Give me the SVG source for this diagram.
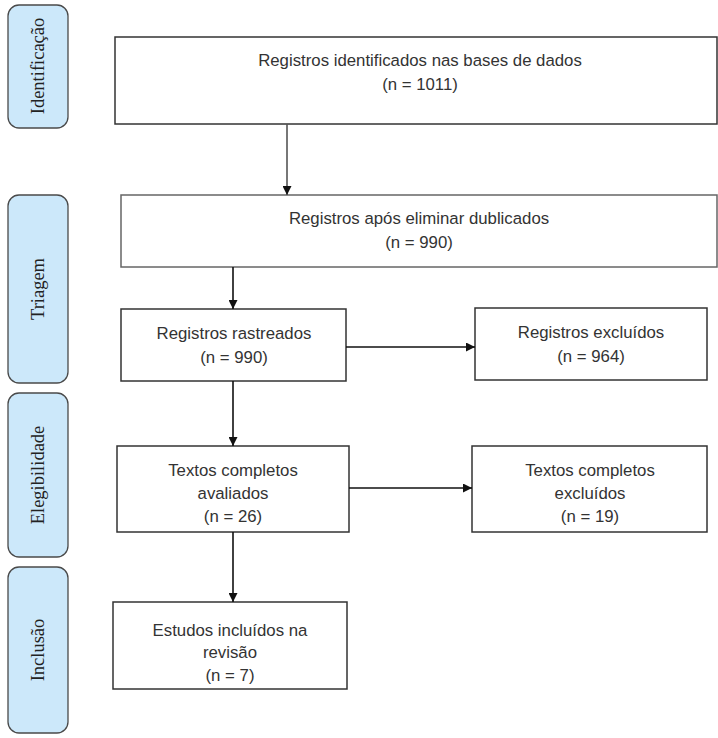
<svg xmlns="http://www.w3.org/2000/svg" width="718" height="738" viewBox="0 0 718 738">
<defs>
<marker id="ah" viewBox="0 0 10 10" refX="10" refY="5" markerWidth="10" markerHeight="9" markerUnits="userSpaceOnUse" orient="auto">
<path d="M0,0 L10,5 L0,10 z" fill="#111"/>
</marker>
</defs>
<style>
.phase{fill:#cce8fa;stroke:#4a4a4a;stroke-width:1.3}
.ptxt{font-family:"Liberation Serif","Times New Roman",serif;font-size:18.5px;fill:#222;text-anchor:middle;dominant-baseline:central}
.box{fill:#fff;stroke:#333;stroke-width:1.5}
.txt{font-family:"Liberation Sans",Arial,sans-serif;font-size:16.8px;fill:#333;text-anchor:middle;dominant-baseline:central}
.con{stroke:#111;stroke-width:1.6;fill:none;marker-end:url(#ah)}
</style>
<rect width="718" height="738" fill="#fff"/>
<g id="phase-identificacao"><rect class="phase" x="8" y="5" width="60" height="123" rx="11"/><text class="ptxt" transform="translate(38,66) rotate(-90)">Identificação</text></g>
<g id="phase-triagem"><rect class="phase" x="8" y="195" width="60" height="188" rx="11"/><text class="ptxt" transform="translate(38,289) rotate(-90)">Triagem</text></g>
<g id="phase-elegibilidade"><rect class="phase" x="8" y="393" width="60" height="164" rx="11"/><text class="ptxt" transform="translate(38,475) rotate(-90)">Elegibilidade</text></g>
<g id="phase-inclusao"><rect class="phase" x="8" y="567" width="60" height="166" rx="11"/><text class="ptxt" transform="translate(38,650) rotate(-90)">Inclusão</text></g>

<g id="n-identificados"><rect class="box" x="115" y="37" width="602" height="87"/><text class="txt" x="420" y="60">Registros identificados nas bases de dados</text><text class="txt" x="420" y="84">(n = 1011)</text></g>
<g id="n-dublicados"><rect class="box" x="121" y="195" width="596" height="72" style="stroke:#666"/><text class="txt" x="419" y="218">Registros após eliminar dublicados</text><text class="txt" x="419" y="242">(n = 990)</text></g>
<g id="n-rastreados"><rect class="box" x="121" y="309" width="225" height="72"/><text class="txt" x="234" y="333">Registros rastreados</text><text class="txt" x="234" y="357">(n = 990)</text></g>
<g id="n-excluidos"><rect class="box" x="475" y="308" width="232" height="72"/><text class="txt" x="591" y="332">Registros excluídos</text><text class="txt" x="591" y="356">(n = 964)</text></g>
<g id="n-avaliados"><rect class="box" x="117" y="446" width="232" height="86"/><text class="txt" x="233" y="470">Textos completos</text><text class="txt" x="233" y="493">avaliados</text><text class="txt" x="233" y="516">(n = 26)</text></g>
<g id="n-textos-excluidos"><rect class="box" x="472" y="446" width="235" height="86"/><text class="txt" x="590" y="470">Textos completos</text><text class="txt" x="590" y="493">excluídos</text><text class="txt" x="590" y="516">(n = 19)</text></g>
<g id="n-incluidos"><rect class="box" x="113" y="602" width="234" height="87"/><text class="txt" x="230" y="630">Estudos incluídos na</text><text class="txt" x="230" y="652">revisão</text><text class="txt" x="230" y="675">(n = 7)</text></g>

<g id="connectors">
<line class="con" x1="287" y1="124" x2="287" y2="195" style="stroke:#555"/>
<line class="con" x1="233" y1="267" x2="233" y2="309"/>
<line class="con" x1="346" y1="347" x2="475" y2="347"/>
<line class="con" x1="233" y1="381" x2="233" y2="446"/>
<line class="con" x1="349" y1="488" x2="472" y2="488"/>
<line class="con" x1="233" y1="532" x2="233" y2="602"/>
</g>
</svg>
